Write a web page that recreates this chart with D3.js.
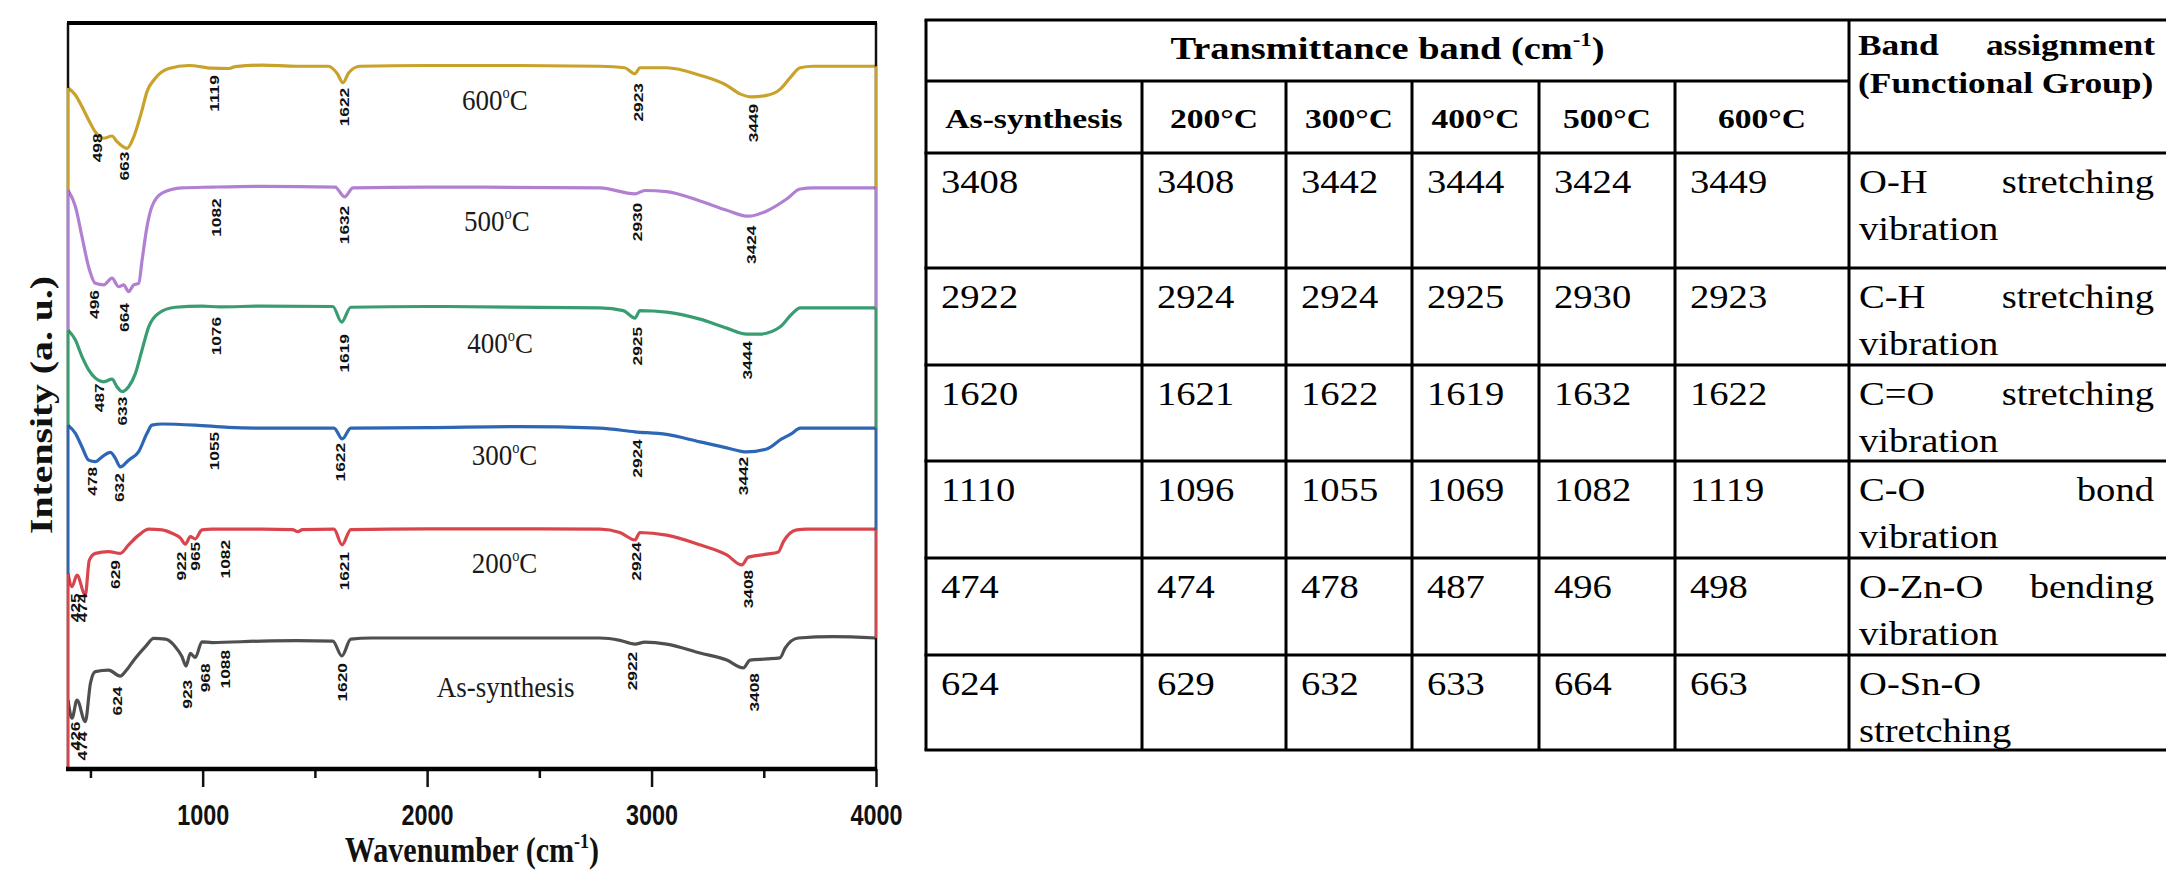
<!DOCTYPE html>
<html>
<head>
<meta charset="utf-8">
<script src="https://cdn.jsdelivr.net/npm/d3@7"></script>
<style>
  body { margin: 0; background: #fff; }
  svg { display: block; }
</style>
</head>
<body>
<svg id="fig" width="2166" height="879"></svg>
<script>
// ---- data (bottom trace first) ----
const seriesNames = ["As-synthesis", "200°C", "300°C", "400°C", "500°C", "600°C"];
const colors = ["#4f4f4f", "#d9454d", "#2c66b5", "#3a9d71", "#b180d2", "#c9a22b"];

// [wavenumber cm-1, intensity a.u. (stacked)]
const asSynthesis = [[400, 9.25], [418, 6.8], [440, 9.25], [477, 6.35], [500, 11.5], [522, 13.05], [581, 13.25], [633, 12.45], [655, 13.05], [700, 14.85], [745, 16.4], [782, 17.5], [834, 17.4], [878, 16.4], [908, 15.05], [926, 13.8], [945, 15.5], [967, 14.95], [997, 17.05], [1042, 16.95], [1264, 17.15], [1420, 17.2], [1580, 17.15], [1620, 15.15], [1660, 17.4], [1750, 17.56], [2000, 17.56], [2770, 17.56], [2859, 17.25], [2926, 16.75], [2970, 17.0], [3067, 16.75], [3216, 15.55], [3335, 14.6], [3409, 13.55], [3439, 14.6], [3513, 14.75], [3572, 14.9], [3595, 16.2], [3654, 17.56], [3810, 17.75], [4000, 17.56]];
const t200 = [[400, 26.2], [418, 24.45], [440, 26.0], [477, 23.3], [495, 28.0], [522, 28.9], [581, 29.15], [633, 28.9], [670, 30.05], [715, 31.35], [760, 32.15], [819, 32.05], [863, 31.6], [901, 30.95], [923, 30.15], [945, 31.15], [967, 30.85], [997, 32.05], [1042, 32.15], [1264, 32.15], [1400, 32.1], [1424, 31.8], [1445, 32.1], [1585, 32.15], [1621, 30.05], [1660, 32.1], [2000, 32.2], [2770, 32.15], [2859, 31.7], [2926, 30.7], [2948, 31.7], [3067, 31.35], [3216, 30.05], [3335, 28.7], [3402, 27.35], [3431, 28.4], [3513, 28.8], [3565, 29.1], [3587, 30.45], [3647, 32.05], [3691, 32.15], [4000, 32.15]];
const t300 = [[400, 46.1], [433, 45.0], [462, 43.2], [492, 41.4], [522, 41.2], [552, 41.85], [589, 42.45], [611, 41.65], [633, 40.5], [670, 41.4], [715, 42.55], [752, 45.0], [774, 46.1], [819, 46.25], [967, 46.1], [1115, 45.8], [1264, 45.7], [1585, 45.7], [1622, 44.25], [1660, 45.7], [2000, 45.75], [2400, 45.9], [2770, 45.7], [2926, 45.2], [3067, 44.85], [3216, 43.85], [3335, 43.05], [3424, 42.5], [3513, 42.9], [3580, 44.25], [3624, 44.95], [3662, 45.7], [4000, 45.7]];
const t400 = [[400, 58.85], [433, 57.5], [462, 55.3], [492, 53.5], [522, 52.4], [559, 51.9], [596, 52.25], [618, 51.25], [640, 50.6], [670, 51.25], [700, 53.0], [730, 56.2], [760, 59.3], [804, 61.1], [878, 61.9], [997, 62.05], [1076, 61.95], [1264, 62.05], [1580, 62.0], [1619, 59.9], [1660, 61.9], [2000, 62.0], [2770, 61.8], [2874, 61.45], [2926, 60.45], [2948, 61.45], [3067, 61.25], [3216, 60.3], [3335, 59.1], [3424, 58.3], [3483, 58.3], [3572, 59.25], [3624, 60.95], [3662, 61.8], [4000, 61.8]];
const t500 = [[400, 77.6], [433, 75.4], [462, 71.4], [492, 67.3], [522, 65.1], [559, 64.9], [596, 65.8], [626, 64.65], [648, 64.9], [670, 64.0], [693, 64.9], [715, 65.1], [730, 68.2], [752, 72.7], [774, 75.4], [819, 77.2], [908, 77.9], [1042, 78.0], [1264, 78.1], [1590, 78.0], [1632, 76.7], [1670, 77.9], [2000, 78.0], [2770, 77.9], [2926, 77.1], [2970, 77.55], [3067, 77.4], [3216, 76.15], [3335, 74.9], [3431, 74.1], [3513, 74.8], [3602, 76.4], [3662, 77.75], [3721, 77.9], [4000, 77.9]];
const t600 = [[400, 91.3], [433, 90.35], [462, 88.8], [492, 87.0], [522, 85.4], [559, 84.55], [596, 84.85], [618, 84.1], [663, 83.2], [693, 84.75], [730, 88.35], [752, 90.8], [789, 92.6], [849, 93.9], [938, 94.3], [1042, 93.95], [1119, 93.9], [1145, 94.15], [1264, 94.35], [1420, 94.2], [1560, 94.2], [1600, 93.2], [1625, 92.0], [1650, 93.3], [1700, 94.2], [2000, 94.3], [2400, 94.3], [2770, 94.2], [2880, 94.0], [2926, 93.2], [2948, 94.0], [3067, 94.0], [3216, 93.0], [3335, 91.65], [3394, 90.5], [3446, 90.1], [3513, 90.3], [3572, 91.1], [3617, 92.65], [3662, 94.0], [3721, 94.2], [4000, 94.2]];
const spectra = [asSynthesis, t200, t300, t400, t500, t600];

// peak labels: [text, wavenumber, top of label in a.u.]
const peaksAs = [["426", 433, 6.35], ["474", 462, 5.0], ["624", 618, 11.05], ["923", 930, 11.95], ["968", 1012, 14.15], ["1088", 1101, 15.95], ["1620", 1621, 14.2], ["2922", 2915, 15.7], ["3408", 3455, 12.85]];
const peaks200 = [["425", 433, 23.55], ["474", 465, 23.55], ["629", 611, 28.0], ["922", 903, 29.15], ["965", 967, 30.45], ["1082", 1101, 30.7], ["1621", 1630, 29.1], ["2924", 2931, 30.4], ["3408", 3431, 26.7]];
const peaks300 = [["478", 507, 40.5], ["632", 626, 39.65], ["1055", 1049, 45.2], ["1622", 1612, 43.7], ["2924", 2937, 44.2], ["3442", 3409, 41.85]];
const peaks400 = [["487", 537, 51.7], ["633", 641, 49.9], ["1076", 1061, 60.6], ["1619", 1630, 58.3], ["2925", 2937, 59.25], ["3444", 3424, 57.35]];
const peaks500 = [["496", 517, 64.2], ["664", 648, 62.45], ["1082", 1061, 76.5], ["1632", 1630, 75.5], ["2930", 2937, 75.9], ["3424", 3442, 72.85]];
const peaks600 = [["498", 529, 85.2], ["663", 648, 82.75], ["1119", 1052, 93.0], ["1622", 1630, 91.3], ["2923", 2941, 91.95], ["3449", 3451, 89.15]];
const peaks = [peaksAs, peaks200, peaks300, peaks400, peaks500, peaks600];

// trace name anchors: [wavenumber, baseline a.u.]
const nameAt = [[2350, 9.65], [2345, 26.27], [2345, 40.75], [2325, 55.77], [2311, 72.12], [2302, 88.34]];

const majorTicks = [1000, 2000, 3000, 4000];
const minorTicks = [500, 1500, 2500, 3500];

// table
const tableTemps = ["As-synthesis", "200°C", "300°C", "400°C", "500°C", "600°C"];
const bandRows = [
  [3408, 3408, 3442, 3444, 3424, 3449],
  [2922, 2924, 2924, 2925, 2930, 2923],
  [1620, 1621, 1622, 1619, 1632, 1622],
  [1110, 1096, 1055, 1069, 1082, 1119],
  [474, 474, 478, 487, 496, 498],
  [624, 629, 632, 633, 664, 663]
];
// each assignment: lines of words (a line with two words is justified)
const assignments = [
  [["O-H", "stretching"], ["vibration"]],
  [["C-H", "stretching"], ["vibration"]],
  [["C=O", "stretching"], ["vibration"]],
  [["C-O", "bond"], ["vibration"]],
  [["O-Zn-O", "bending"], ["vibration"]],
  [["O-Sn-O"], ["stretching"]]
];

// ---- drawing ----
const serif = "'Liberation Serif', 'Times New Roman', serif";
const sans = "'Liberation Sans', Arial, sans-serif";
const svg = d3.select("#fig");

const plot = { left: 68, right: 876, top: 23, bottom: 769 };
const x = d3.scaleLinear().domain([400, 4000]).range([plot.left, plot.right]);
const y = d3.scaleLinear().domain([0, 100]).range([plot.bottom, plot.top]);

svg.append("clipPath").attr("id", "clip")
  .append("rect")
  .attr("x", plot.left).attr("y", plot.top)
  .attr("width", plot.right - plot.left).attr("height", plot.bottom - plot.top);

// spectra
const line = d3.line()
  .x(d => x(d[0]))
  .y(d => y(d[1]))
  .curve(d3.curveMonotoneX);

svg.append("g").attr("clip-path", "url(#clip)")
  .selectAll("path")
  .data(spectra)
  .join("path")
  .attr("d", line)
  .attr("fill", "none")
  .attr("stroke", (d, i) => colors[i])
  .attr("stroke-width", 3.2)
  .attr("stroke-linejoin", "round");

// frame: left and right edges take the trace colours below each trace
const frame = svg.append("g");
frame.append("line")
  .attr("x1", plot.left).attr("x2", plot.left)
  .attr("y1", plot.top).attr("y2", plot.bottom)
  .attr("stroke", "#111").attr("stroke-width", 2.5);
frame.append("line")
  .attr("x1", plot.right).attr("x2", plot.right)
  .attr("y1", plot.top).attr("y2", plot.bottom)
  .attr("stroke", "#111").attr("stroke-width", 2.5);
for (let i = spectra.length - 1; i >= 1; i--) {
  const s = spectra[i];
  const lowerStart = i > 1 ? y(spectra[i - 1][0][1]) : plot.bottom;
  frame.append("line")
    .attr("x1", plot.left).attr("x2", plot.left)
    .attr("y1", y(s[0][1])).attr("y2", lowerStart)
    .attr("stroke", colors[i]).attr("stroke-width", 2.5);
  frame.append("line")
    .attr("x1", plot.right).attr("x2", plot.right)
    .attr("y1", y(s[s.length - 1][1]))
    .attr("y2", y(spectra[i - 1][spectra[i - 1].length - 1][1]))
    .attr("stroke", colors[i]).attr("stroke-width", 2.5);
}
frame.append("line")
  .attr("x1", plot.left - 1).attr("x2", plot.right + 1)
  .attr("y1", plot.top).attr("y2", plot.top)
  .attr("stroke", "#000").attr("stroke-width", 4);

// x axis
const axisG = svg.append("g").attr("transform", `translate(0,${plot.bottom})`);
axisG.append("g")
  .call(d3.axisBottom(x).tickValues(minorTicks).tickSize(9).tickFormat(""))
  .call(g => g.select(".domain").remove());
axisG.append("g")
  .call(d3.axisBottom(x).tickValues(majorTicks).tickSize(18).tickFormat(d3.format("d")))
  .call(g => g.select(".domain").remove())
  .call(g => g.selectAll("text")
    .attr("y", 56).attr("dy", 0)
    .attr("transform", "scale(0.78,1)")
    .attr("font-family", sans).attr("font-weight", "bold")
    .attr("font-size", 30).attr("fill", "#111"));
axisG.selectAll(".tick line").attr("stroke", "#111").attr("stroke-width", 2.5);
axisG.append("line")
  .attr("x1", plot.left - 2).attr("x2", plot.right + 1)
  .attr("y1", 0).attr("y2", 0)
  .attr("stroke", "#000").attr("stroke-width", 4.5);

// peak labels
svg.append("g").selectAll("g")
  .data(peaks)
  .join("g")
  .selectAll("text")
  .data(d => d)
  .join("text")
  .attr("transform", d => `translate(${x(d[1])},${y(d[2])}) rotate(-90) scale(1.28,1)`)
  .attr("text-anchor", "end")
  .attr("dy", "0.36em")
  .attr("font-family", sans).attr("font-weight", "bold")
  .attr("font-size", 13.5).attr("fill", "#111")
  .text(d => d[0]);

// trace names
svg.append("g").selectAll("text")
  .data(seriesNames)
  .join("text")
  .attr("transform", (d, i) => `translate(${x(nameAt[i][0])},${y(nameAt[i][1])}) scale(0.9,1)`)
  .attr("text-anchor", "middle")
  .attr("font-family", serif).attr("font-size", 30).attr("fill", "#1a1a1a")
  .each(function (d) {
    const t = d3.select(this);
    if (d.endsWith("°C")) {
      t.append("tspan").text(d.slice(0, -2));
      t.append("tspan").attr("dy", -12).attr("font-size", 16).text("o");
      t.append("tspan").attr("dy", 12).text("C");
    } else {
      t.text(d);
    }
  });

// axis titles
const xTitle = svg.append("text")
  .attr("transform", `translate(${(plot.left + plot.right) / 2},862) scale(0.86,1)`)
  .attr("text-anchor", "middle")
  .attr("font-family", serif).attr("font-weight", "bold").attr("font-size", 35).attr("fill", "#111");
xTitle.append("tspan").text("Wavenumber (cm");
xTitle.append("tspan").attr("dy", -14).attr("font-size", 21).text("-1");
xTitle.append("tspan").attr("dy", 14).text(")");

svg.append("text")
  .attr("transform", `translate(52,${(plot.top + plot.bottom) / 2 + 9}) rotate(-90) scale(1.24,1)`)
  .attr("text-anchor", "middle")
  .attr("font-family", serif).attr("font-weight", "bold").attr("font-size", 32).attr("fill", "#111")
  .text("Intensity (a. u.)");

// ---- table ----
const colX = [926, 1142, 1286, 1412, 1539, 1675, 1849, 2168];
const rowY = [20, 153, 268, 365, 461, 558, 655, 750];
const splitY = 81;
const tbl = svg.append("g");
const rule = (x1, y1, x2, y2) => tbl.append("line")
  .attr("x1", x1).attr("y1", y1).attr("x2", x2).attr("y2", y2)
  .attr("stroke", "#000").attr("stroke-width", 3);

rowY.forEach(r => rule(colX[0] - 1.5, r, colX[7], r));
rule(colX[0], splitY, colX[6], splitY);
[0, 6, 7].forEach(c => rule(colX[c], rowY[0], colX[c], rowY[7]));
[1, 2, 3, 4, 5].forEach(c => rule(colX[c], splitY, colX[c], rowY[7]));

const cellText = (px, py, s, opt) => tbl.append("text")
  .attr("transform", `translate(${px},${py}) scale(${opt.sx},1)`)
  .attr("text-anchor", opt.anchor || "start")
  .attr("font-family", serif)
  .attr("font-weight", opt.bold ? "bold" : "normal")
  .attr("font-size", opt.size)
  .attr("fill", "#000")
  .text(s);

const head = cellText((colX[0] + colX[6]) / 2, 59, "Transmittance band (cm", { sx: 1.2, size: 32, bold: true, anchor: "middle" });
head.append("tspan").attr("dy", -13).attr("font-size", 19).text("-1");
head.append("tspan").attr("dy", 13).text(")");

tableTemps.forEach((t, i) => {
  cellText((colX[i] + colX[i + 1]) / 2, 128, t, { sx: 1.2, size: 28, bold: true, anchor: "middle" });
});
cellText(colX[6] + 9, 55, "Band", { sx: 1.18, size: 30, bold: true });
cellText(2155, 55, "assignment", { sx: 1.18, size: 30, bold: true, anchor: "end" });
cellText(colX[6] + 9, 93, "(Functional Group)", { sx: 1.18, size: 30, bold: true });

bandRows.forEach((row, r) => {
  const base = rowY[r + 1] + 40;
  row.forEach((v, c) => cellText(colX[c] + 15, base, String(v), { sx: 1.17, size: 33 }));
  assignments[r].forEach((words, li) => {
    const ly = base + li * 47;
    cellText(colX[6] + 10, ly, words[0], { sx: 1.17, size: 33 });
    if (words.length > 1) cellText(2154, ly, words[1], { sx: 1.17, size: 33, anchor: "end" });
  });
});
</script>
</body>
</html>
